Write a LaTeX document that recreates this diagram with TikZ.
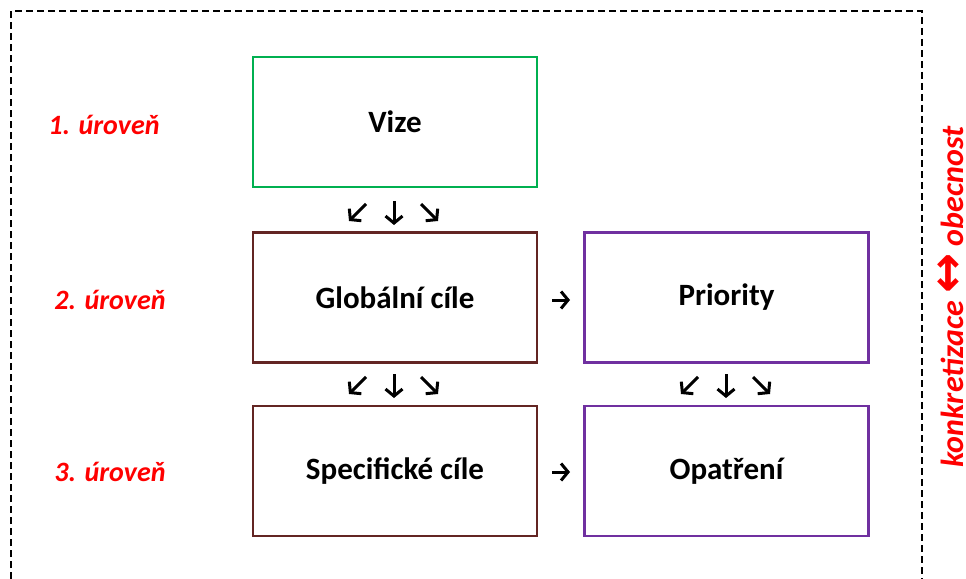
\documentclass[tikz,border=0pt]{standalone}
\usepackage{fontspec}
\usetikzlibrary{arrows.meta}
\setmainfont{Carlito}
\newfontfamily\arrowfont{DejaVu Sans}
\definecolor{vgreen}{HTML}{00B050}
\definecolor{vbrown}{HTML}{632523}
\definecolor{vpurple}{HTML}{7030A0}
\definecolor{vred}{HTML}{FF0000}
\begin{document}
\begin{tikzpicture}[x=1pt,y=-1pt,
  box/.style={draw, line width=2.6pt, minimum width=284pt, minimum height=130pt, inner sep=0pt, font=\fontsize{31}{36}\selectfont\bfseries},
  lvl/.style={text=vred, font=\fontsize{28}{32}\selectfont\bfseries\itshape},
  sym/.style={line width=3pt, -{Straight Barb[length=7pt,width=17pt,line width=3pt]}},
  tri/.pic={
    \draw[sym] (-28,-9) -- (-45,8);
    \draw[sym] (0,-12) -- (0,12);
    \draw[sym] (27,-9) -- (44,8);
  }]
\useasboundingbox (0,0) rectangle (966,578);
\draw[line width=2pt, dash pattern=on 7pt off 4pt] (11,590) -- (11,11) -- (922,11) -- (922,590);
\node[box, draw=vgreen] (vize) at (395,122) {Vize};
\node[box, draw=vbrown] (glob) at (395,297.5) {Globální cíle};
\node[box, draw=vpurple] (prio) at (726.5,297.5) {Priority};
\node[box, draw=vbrown] (spec) at (395,471) {Specifické cíle};
\node[box, draw=vpurple] (opat) at (726.5,471) {Opatření};
\node[lvl] (l1) at (104,125) {1. úroveň};
\node[lvl] (l2) at (110,300) {2. úroveň};
\node[lvl] (l3) at (110,472) {3. úroveň};
\pic at (394,213) {tri};
\pic at (394,386) {tri};
\pic at (726,386) {tri};
\draw[sym] (552,300) -- (570,300);
\draw[sym] (552,472) -- (570,472);
\node[lvl, rotate=90, anchor=base, inner sep=0pt, font=\fontsize{32}{36}\selectfont\bfseries\itshape] (side) at (963,297) {konkretizace {\arrowfont\fontsize{48}{48}\selectfont ↔} obecnost};
\end{tikzpicture}
\end{document}
